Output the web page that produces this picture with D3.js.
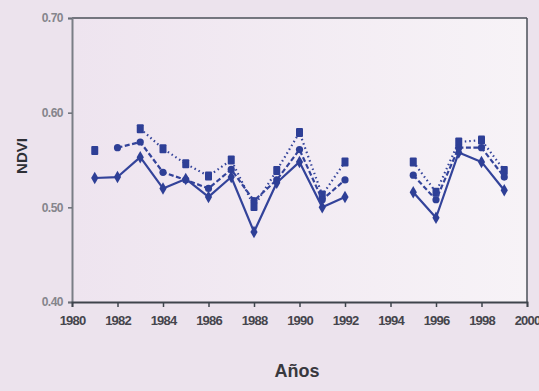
<!DOCTYPE html>
<html>
<head>
<meta charset="utf-8">
<script src="https://cdn.jsdelivr.net/npm/d3@7"></script>
<style>
  html, body { margin: 0; padding: 0; background: #ece3ed; }
  svg { display: block; }
</style>
</head>
<body>
<svg id="chart" width="539" height="391"></svg>
<script>
// Annual index values, three series (null = no observation)
const years = [1981, 1982, 1983, 1984, 1985, 1986, 1987, 1988, 1989, 1990, 1991, 1992,
               1993, 1994, 1995, 1996, 1997, 1998, 1999];
const seriesSolid  = [0.531, 0.532, 0.553, 0.520, 0.530, 0.511, 0.532, 0.474, 0.526, 0.548, 0.500, 0.511,
                      null, null, 0.516, 0.489, 0.558, 0.548, 0.518];
const seriesDashed = [null, 0.563, 0.569, 0.537, 0.529, 0.520, 0.540, 0.507, 0.529, 0.561, 0.508, 0.529,
                      null, null, 0.534, 0.508, 0.563, 0.563, 0.532];
const seriesDotted = [0.560, null, 0.583, 0.562, 0.546, 0.533, 0.550, 0.501, 0.539, 0.579, 0.513, 0.548,
                      null, null, 0.548, 0.516, 0.569, 0.571, 0.539];
const xTicks = [1980, 1982, 1984, 1986, 1988, 1990, 1992, 1994, 1996, 1998, 2000];
const yTicks = [0.40, 0.50, 0.60, 0.70];
const yTickLabels = ["0.40", "0.50", "0.60", "0.70"];

const svg = d3.select("#chart");
const plotL = 72, plotR = 527, plotT = 18, plotB = 302;

// soft lighter plot area
const defs = svg.append("defs");
const grad = defs.append("linearGradient").attr("id", "bg").attr("x1", 0).attr("x2", 1);
grad.append("stop").attr("offset", 0).attr("stop-color", "#eee4ef");
grad.append("stop").attr("offset", 1).attr("stop-color", "#f7f3f7");
svg.append("rect").attr("x", plotL).attr("y", plotT).attr("width", plotR - plotL).attr("height", plotB - plotT)
  .attr("fill", "url(#bg)");

const x = d3.scaleLinear().domain([1980, 2000]).range([plotL, plotR]);
const y = d3.scaleLinear().domain([0.40, 0.70]).range([plotB, plotT]);

const fontAxis = "'Liberation Sans Narrow', 'Liberation Sans', Arial, sans-serif";

// frame
svg.append("line").attr("x1", plotL).attr("x2", plotR).attr("y1", plotT).attr("y2", plotT)
  .attr("stroke", "#4b5058").attr("stroke-width", 1.5);
svg.append("line").attr("x1", plotR).attr("x2", plotR).attr("y1", plotT).attr("y2", plotB)
  .attr("stroke", "#4b5058").attr("stroke-width", 1.5);

// y axis
const yAxis = d3.axisLeft(y).tickValues(yTicks).tickSize(4).tickPadding(5)
  .tickFormat((d, i) => yTickLabels[i]);
const gy = svg.append("g").attr("transform", `translate(${plotL},0)`).call(yAxis);
gy.select(".domain").attr("stroke", "#7a7e86").attr("stroke-width", 2);
gy.selectAll(".tick line").attr("stroke", "#6a6e76").attr("stroke-width", 1.5);
gy.selectAll(".tick text").attr("fill", "#85858c").attr("font-family", fontAxis)
  .attr("font-size", 12).attr("font-weight", "bold").attr("letter-spacing", "-0.5px");

// x axis
const xAxis = d3.axisBottom(x).tickValues(xTicks).tickSize(5).tickPadding(9).tickFormat(d3.format("d"));
const gx = svg.append("g").attr("transform", `translate(0,${plotB})`).call(xAxis);
gx.select(".domain").attr("stroke", "#3f444c").attr("stroke-width", 1.8);
gx.selectAll(".tick line").attr("stroke", "#3f444c").attr("stroke-width", 1.5);
gx.selectAll(".tick text").attr("fill", "#45454c").attr("font-family", fontAxis)
  .attr("font-size", 13).attr("font-weight", "bold").attr("letter-spacing", "-0.8px");

// axis titles
svg.append("text").attr("x", 297).attr("y", 377).attr("text-anchor", "middle")
  .attr("font-family", fontAxis).attr("font-weight", "bold").attr("font-size", 18)
  .attr("fill", "#38383e").text("Años");
svg.append("text").attr("transform", "translate(27,156) rotate(-90)").attr("text-anchor", "middle")
  .attr("font-family", fontAxis).attr("font-weight", "bold").attr("font-size", 15)
  .attr("fill", "#2e3036").text("NDVI");

// series
const lineColor = "#33439a";
const markColor = "#2e3f96";
const line = d3.line().defined(d => d.v != null).x(d => x(d.yr)).y(d => y(d.v));
const mk = arr => years.map((yr, i) => ({ yr, v: arr[i] }));

const series = [
  { data: mk(seriesDotted), dash: "1.5,3", shape: "square" },
  { data: mk(seriesDashed), dash: "5,2.5", shape: "circle" },
  { data: mk(seriesSolid),  dash: null,    shape: "diamond" }
];

series.forEach(s => {
  svg.append("path").datum(s.data).attr("d", line).attr("fill", "none")
    .attr("stroke", lineColor).attr("stroke-width", 2.2)
    .attr("stroke-dasharray", s.dash).attr("stroke-linejoin", "round");
  const pts = s.data.filter(d => d.v != null);
  const g = svg.append("g");
  if (s.shape === "square") {
    g.selectAll("rect").data(pts).enter().append("rect")
      .attr("x", d => x(d.yr) - 3.5).attr("y", d => y(d.v) - 4.5)
      .attr("width", 7).attr("height", 9).attr("rx", 1).attr("fill", markColor);
  } else if (s.shape === "circle") {
    g.selectAll("circle").data(pts).enter().append("circle")
      .attr("cx", d => x(d.yr)).attr("cy", d => y(d.v)).attr("r", 3.6).attr("fill", markColor);
  } else {
    g.selectAll("path").data(pts).enter().append("path")
      .attr("d", d3.symbol().type(d3.symbolDiamond).size(45))
      .attr("transform", d => `translate(${x(d.yr)},${y(d.v)})`).attr("fill", markColor);
  }
});
</script>
</body>
</html>
